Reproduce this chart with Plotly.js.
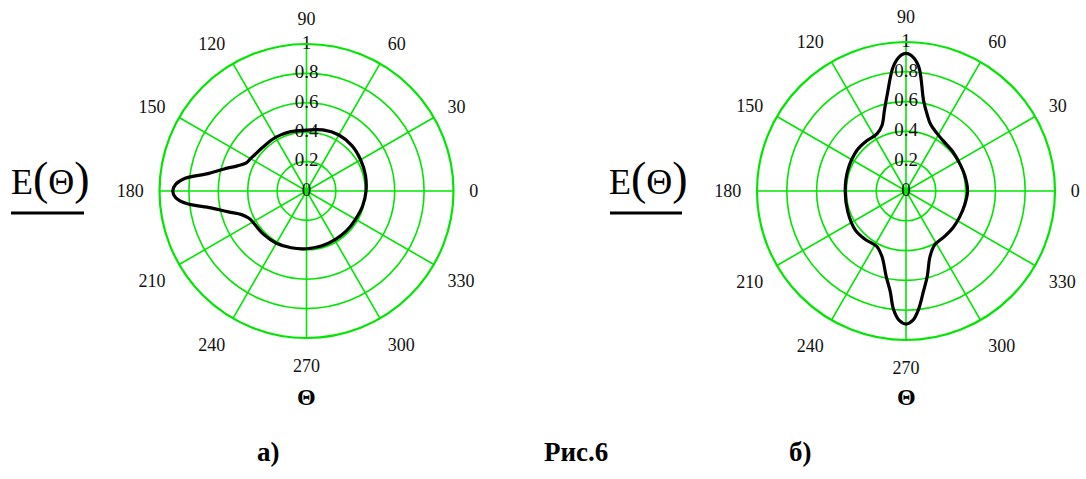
<!DOCTYPE html>
<html>
<head>
<meta charset="utf-8">
<script src="https://cdn.plot.ly/plotly-3.0.1.min.js"></script>
<style>html,body{margin:0;padding:0;background:#fff}#chart{width:1086px;height:479px}</style>
</head>
<body>
<div id="chart"></div>
<script>
// Pattern (а): angles in degrees and normalised field E(Θ)
const thetaA = [0, 15, 30, 45, 60, 75, 90, 105, 120, 135, 145, 150, 155, 160, 165, 170, 174, 177, 180,
                183, 186, 190, 195, 200, 205, 210, 225, 240, 255, 270, 285, 300, 315, 330, 345, 360];
const rA     = [0.405, 0.415, 0.425, 0.437, 0.440, 0.430, 0.414, 0.418, 0.421, 0.421, 0.430, 0.440, 0.452, 0.50, 0.58, 0.68, 0.83, 0.89, 0.91,
                0.89, 0.82, 0.66, 0.55, 0.47, 0.435, 0.422, 0.415, 0.410, 0.400, 0.393, 0.388, 0.384, 0.384, 0.385, 0.395, 0.405];

// Pattern (б)
const thetaB = [0, 15, 27, 40, 54, 62, 70, 75, 79, 84, 87, 90, 93, 96, 101, 105, 110, 117, 128, 140, 160, 180,
                200, 218, 230, 242, 250, 257, 261, 264, 267, 270, 273, 276, 280, 284, 290, 298, 310, 322, 334, 347, 360];
const rB     = [0.413, 0.408, 0.405, 0.41, 0.42, 0.44, 0.479, 0.54, 0.618, 0.834, 0.90, 0.924, 0.90, 0.835, 0.66, 0.56, 0.47, 0.43, 0.428, 0.428, 0.415, 0.408,
                0.415, 0.43, 0.425, 0.42, 0.47, 0.59, 0.68, 0.80, 0.87, 0.893, 0.87, 0.80, 0.68, 0.59, 0.47, 0.41, 0.40, 0.40, 0.40, 0.405, 0.413];

const angleTicks = [0, 30, 60, 90, 120, 150, 180, 210, 240, 270, 300, 330];
const angleLabels = ["0", "30", "60", "90", "120", "150", "180", "210", "240", "270", "300", "330"];
const radialTicks = [0, 0.2, 0.4, 0.6, 0.8, 1];
const radialLabels = ["0", "0.2", "0.4", "0.6", "0.8", "1"];

const GREEN = "#00e600";
const serif = "Times New Roman, Liberation Serif, DejaVu Serif, serif";

function polarLayout(dom) {
  return {
    domain: dom,
    bgcolor: "rgba(0,0,0,0)",
    radialaxis: {
      range: [0, 1], tickvals: radialTicks, showticklabels: false, ticks: "",
      gridcolor: GREEN, gridwidth: 1.6, showline: false, angle: 0
    },
    angularaxis: {
      rotation: 0, direction: "counterclockwise",
      tickmode: "array", tickvals: angleTicks, ticktext: angleLabels,
      ticks: "outside", ticklen: 11, tickcolor: "rgba(0,0,0,0)",
      gridcolor: GREEN, gridwidth: 1.6,
      showline: true, linecolor: GREEN, linewidth: 2.2,
      tickfont: {family: serif, size: 18, color: "#111"}
    }
  };
}

const radialLabelTrace = (sub) => ({
  type: "scatterpolar", subplot: sub, mode: "text", cliponaxis: false,
  theta: radialTicks.map(() => 90), r: radialTicks, text: radialLabels,
  textposition: "middle center",
  textfont: {family: serif, size: 19, color: "#111"},
  hoverinfo: "skip", showlegend: false
});

const data = [
  radialLabelTrace("polar"),
  {type: "scatterpolar", subplot: "polar", mode: "lines", theta: thetaA, r: rA,
   line: {color: "#000", width: 3.2, shape: "spline", smoothing: 1}, showlegend: false},
  radialLabelTrace("polar2"),
  {type: "scatterpolar", subplot: "polar2", mode: "lines", theta: thetaB, r: rB,
   line: {color: "#000", width: 3.2, shape: "spline", smoothing: 1}, showlegend: false}
];

const W = 1086, H = 479;
const ann = (text, x, y, size) => ({
  text: text, xref: "paper", yref: "paper", x: x / W, y: (H - y) / H, showarrow: false,
  xanchor: "center", yanchor: "middle", font: {family: serif, size: size, color: "#000"}
});
const bigParen = (t) => '<span style="font-size:46px">' + t + '</span>';
const eLabel = "E" + bigParen("(") + "Θ" + bigParen(")");
const layout = {
  width: W, height: H,
  margin: {l: 0, r: 0, t: 0, b: 0},
  paper_bgcolor: "#fff",
  showlegend: false,
  polar: polarLayout({x: [159.5 / W, 453.5 / W], y: [(H - 338) / H, (H - 44) / H]}),
  polar2: polarLayout({x: [757 / W, 1055 / W], y: [(H - 340) / H, (H - 42) / H]}),
  annotations: [
    ann(eLabel, 50, 178, 36),
    ann(eLabel, 648, 178, 36),
    ann("<b>Θ</b>", 306, 397, 24),
    ann("<b>Θ</b>", 906, 397, 24),
    ann("<b>а)</b>", 268, 452, 27),
    ann("<b>Рис.6</b>", 576, 452, 27),
    ann("<b>б)</b>", 800, 452, 27)
  ],
  shapes: [
    {type: "line", xref: "paper", yref: "paper", x0: 11 / W, x1: 84 / W, y0: (H - 213) / H, y1: (H - 213) / H,
     line: {color: "#000", width: 3}},
    {type: "line", xref: "paper", yref: "paper", x0: 610 / W, x1: 682 / W, y0: (H - 213) / H, y1: (H - 213) / H,
     line: {color: "#000", width: 3}}
  ]
};

Plotly.newPlot("chart", data, layout, {staticPlot: true, displayModeBar: false});
</script>
</body>
</html>
